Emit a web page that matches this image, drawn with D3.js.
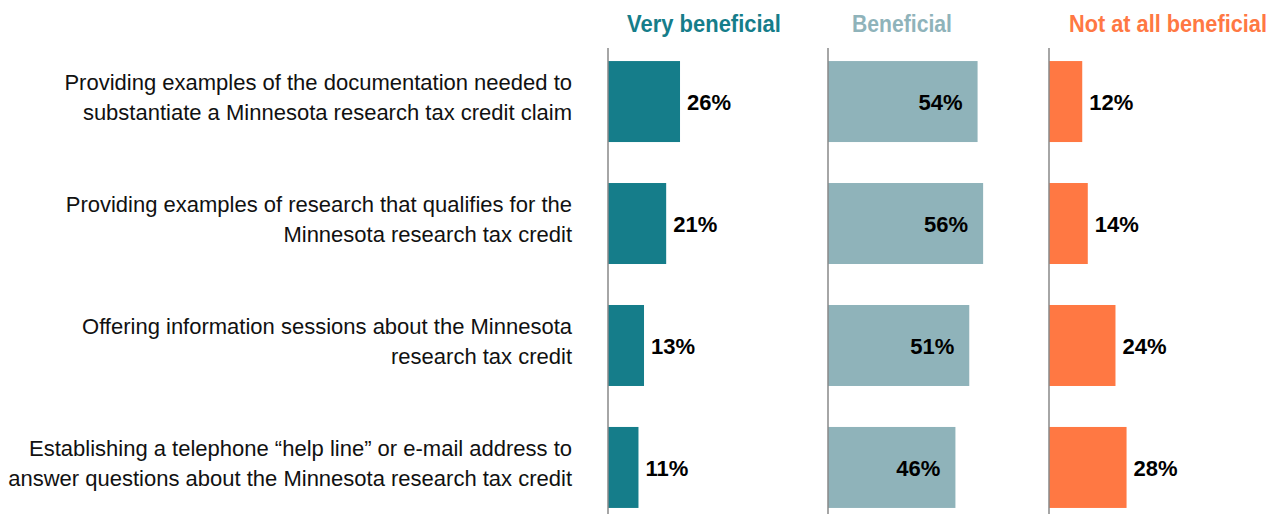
<!DOCTYPE html>
<html>
<head>
<meta charset="utf-8">
<script src="https://cdn.jsdelivr.net/npm/d3@7"></script>
<style>
  body { margin: 0; background: #fff; }
  svg { display: block; }
</style>
</head>
<body>
<div id="chart-area"></div>
<script>
// Data
const categories = [
  ["Providing examples of the documentation needed to", "substantiate a Minnesota research tax credit claim"],
  ["Providing examples of research that qualifies for the", "Minnesota research tax credit"],
  ["Offering information sessions about the Minnesota", "research tax credit"],
  ["Establishing a telephone \u201chelp line\u201d or e-mail address to", "answer questions about the Minnesota research tax credit"]
];
const seriesNames = ["Very beneficial", "Beneficial", "Not at all beneficial"];
const veryBeneficial = [26, 21, 13, 11];
const beneficial = [54, 56, 51, 46];
const notAtAll = [12, 14, 24, 28];

const seriesValues = [veryBeneficial, beneficial, notAtAll];
const colors = ["#157d8a", "#8fb3ba", "#ff7843"];
const labelInside = [false, true, false];

const width = 1279, height = 514;
const font = "'Liberation Sans', Arial, sans-serif";

const svg = d3.select("#chart-area").append("svg")
  .attr("width", width)
  .attr("height", height);

const topY = 48;

// Scales
const y = d3.scaleBand()
  .domain(d3.range(categories.length))
  .range([0, 473])
  .paddingInner(0.336)
  .paddingOuter(0.107);

const panelX = d3.scaleOrdinal()
  .domain(seriesNames)
  .range([608, 828, 1049]);

const x = d3.scaleLinear().domain([0, 100]).range([0, 277]);

// header layout: [left edge offset, width] (headers are a condensed face)
const headerBox = [[19, 154], [24, 100], [20, 198]];

// Category labels
const labels = svg.append("g").attr("transform", `translate(572, ${topY})`);
categories.forEach((lines, i) => {
  const cy = y(i) + y.bandwidth() / 2;
  labels.selectAll(null)
    .data(lines)
    .join("text")
    .attr("x", 0)
    .attr("y", (d, j) => cy - 11.5 + j * 30)
    .attr("text-anchor", "end")
    .style("font-family", font)
    .style("font-size", "22px")
    .style("fill", "#111")
    .text(d => d);
});

// Panels
seriesNames.forEach((name, s) => {
  const g = svg.append("g")
    .attr("transform", `translate(${panelX(name)}, ${topY})`);

  // header, squeezed horizontally to mimic the narrow font
  const h = svg.append("text")
    .style("font-family", font)
    .style("font-weight", "bold")
    .style("font-size", "23.5px")
    .style("fill", colors[s])
    .text(name);
  const sx = headerBox[s][1] / h.node().getComputedTextLength();
  h.attr("transform", `translate(${panelX(name) + headerBox[s][0]}, 32) scale(${sx}, 1)`);

  g.selectAll("rect")
    .data(seriesValues[s])
    .join("rect")
    .attr("x", 0)
    .attr("y", (d, i) => y(i))
    .attr("width", d => x(d))
    .attr("height", y.bandwidth())
    .attr("fill", colors[s]);

  g.selectAll(".val")
    .data(seriesValues[s])
    .join("text")
    .attr("class", "val")
    .attr("x", d => labelInside[s] ? x(d) - 15 : x(d) + 7)
    .attr("y", (d, i) => y(i) + y.bandwidth() / 2 + 8.5)
    .attr("text-anchor", labelInside[s] ? "end" : "start")
    .style("font-family", font)
    .style("font-weight", "bold")
    .style("font-size", "22px")
    .style("fill", "#000")
    .text(d => d + "%");

  // baseline
  g.append("line")
    .attr("x1", 0).attr("x2", 0)
    .attr("y1", 0).attr("y2", height - topY)
    .attr("stroke", "#888")
    .attr("stroke-width", 1.5);
});
</script>
</body>
</html>
